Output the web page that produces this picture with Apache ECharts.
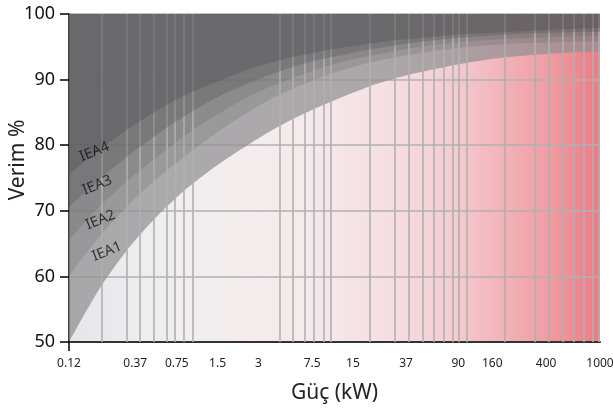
<!DOCTYPE html>
<html><head><meta charset="utf-8">
<script src="https://cdn.jsdelivr.net/npm/echarts@6/dist/echarts.min.js"></script>
<style>html,body{margin:0;padding:0;background:#fff}#c{width:613px;height:410px}</style>
</head><body><div id="c"></div>
<script>
// power points (kW) where the band boundaries were read
const kwPoints = [0.12, 0.2, 0.33, 0.55, 0.9, 1.5, 2.5, 4.2, 7, 12, 20, 35, 60, 100, 180, 330, 600, 1000];
// efficiency boundaries (%) – lower edge of each class band
const ie1 = [50, 58.0, 64.3, 69.4, 73.5, 77.0, 80.0, 82.8, 85.1, 87.2, 89.0, 90.5, 91.6, 92.5, 93.3, 93.8, 94.15, 94.3];
const ie2 = [60, 66.0, 70.9, 75.1, 78.6, 82.0, 85.0, 87.6, 89.6, 91.3, 92.6, 93.6, 94.4, 94.95, 95.35, 95.6, 95.75, 95.85];
const ie3 = [65.5, 70.6, 74.7, 78.4, 81.7, 84.7, 87.3, 89.4, 91.1, 92.6, 93.6, 94.6, 95.3, 95.8, 96.15, 96.4, 96.6, 96.7];
const ie4 = [70.6, 74.7, 78.4, 81.8, 84.7, 87.3, 89.4, 91.2, 92.6, 93.7, 94.6, 95.4, 96.0, 96.4, 96.8, 97.05, 97.2, 97.3];
const ie5 = [75.6, 79.2, 82.5, 85.4, 87.8, 89.7, 91.5, 92.9, 93.9, 94.8, 95.5, 96.1, 96.55, 96.9, 97.2, 97.5, 97.7, 97.9];
// tick labels on the power axis
const xLabels = [0.12, 0.37, 0.75, 1.5, 3, 7.5, 15, 37, 90, 160, 400, 1000];
// vertical reference lines (kW)
const gridKw = [0.21, 0.32, 0.4, 0.51, 0.63, 0.73, 0.85, 0.99, 4.3, 5.4, 6.6, 7.75, 9.1, 10.2,
  19.8, 30.6, 38.6, 48.7, 59.4, 69.6, 81.4, 90.4, 103.6, 198, 329, 418, 530, 642, 753, 883, 971];
// class labels
const classNames = ['IEA1', 'IEA2', 'IEA3', 'IEA4'];
const classLabelPos = [[0.229, 63.8], [0.205, 68.6], [0.194, 73.9], [0.185, 79.0]];

const boundaries = [ie1, ie2, ie3, ie4, ie5];
const layerColors = ['rgba(144,144,146,0.735)', 'rgba(80,80,82,0.178)', 'rgba(80,80,82,0.19)',
  'rgba(80,80,82,0.3)', 'rgba(80,80,82,0.36)'];

const chart = echarts.init(document.getElementById('c'), null, {renderer: 'canvas'});
const FONT = 'Noto Sans';

const series = [];
series.push({
  type: 'line', data: [], z: 1, silent: true,
  markLine: {
    silent: true, symbol: ['none', 'none'], label: {show: false},
    lineStyle: {color: '#b0b0b2', width: 1.6, type: 'solid'},
    data: gridKw.map(v => ({xAxis: v}))
  }
});
boundaries.forEach((b, i) => {
  series.push({
    type: 'line', z: 2 + i, smooth: 0.3, showSymbol: false, silent: true,
    data: kwPoints.map((k, j) => [k, b[j]]),
    lineStyle: {width: 0},
    areaStyle: {origin: 'end', color: layerColors[i], opacity: 1}
  });
});
series.push({
  type: 'scatter', z: 10, symbolSize: 0, silent: true,
  data: classLabelPos.map((p, i) => ({value: p, name: classNames[i]})),
  label: {show: true, position: 'inside', formatter: '{b}', rotate: 22,
    fontFamily: FONT, fontSize: 14.5, color: '#111'}
});

chart.setOption({
  animation: false,
  grid: {left: 69, right: 13, top: 14, bottom: 68, show: true, borderWidth: 0,
    outerBoundsMode: 'none', containLabel: false,
    backgroundColor: {type: 'linear', x: 0, y: 0, x2: 1, y2: 0, colorStops: [
      {offset: 0, color: '#e6e6e8'}, {offset: 0.15, color: '#eeeeef'},
      {offset: 0.25, color: '#f2eeef'}, {offset: 0.44, color: '#f5eaec'},
      {offset: 0.6, color: '#f5dfe2'}, {offset: 0.72, color: '#f4cdd2'},
      {offset: 0.81, color: '#f2b5ba'}, {offset: 0.89, color: '#f0a0a6'},
      {offset: 0.96, color: '#ef8890'}, {offset: 1, color: '#ef7a84'}]}},
  xAxis: {
    type: 'log', logBase: 10, min: 0.12, max: 1000,
    name: 'Güç (kW)', nameLocation: 'middle', nameGap: 41, nameMoveOverlap: false,
    nameTextStyle: {fontFamily: FONT, fontSize: 21, color: '#222'},
    axisLine: {show: true, lineStyle: {color: '#333', width: 2}},
    axisTick: {show: true, customValues: [0.12], length: 9, lineStyle: {color: '#000', width: 1.5}},
    axisLabel: {customValues: xLabels, fontFamily: FONT, fontSize: 12, color: '#222', margin: 16,
      formatter: v => String(v)},
    splitLine: {show: false}
  },
  yAxis: {
    type: 'value', min: 50, max: 100, interval: 10,
    name: 'Verim %', nameLocation: 'middle', nameGap: 40, nameMoveOverlap: false,
    nameTextStyle: {fontFamily: FONT, fontSize: 21, color: '#222', padding: [0, 0, 0, 36]},
    axisLine: {show: true, lineStyle: {color: '#000', width: 1.5}},
    axisTick: {show: true, length: 9, lineStyle: {color: '#000', width: 1.5}},
    axisLabel: {fontFamily: FONT, fontSize: 18, color: '#111', margin: 14},
    splitLine: {show: true, lineStyle: {color: '#b0b0b2', width: 1.6}}
  },
  series: series
});
</script></body></html>
